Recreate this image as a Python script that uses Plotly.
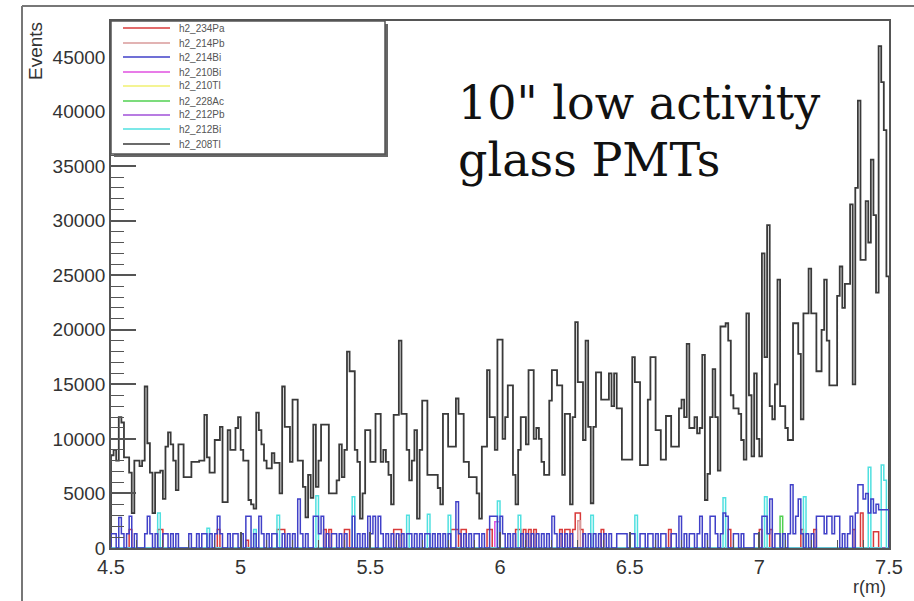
import numpy as np
import plotly.graph_objects as go

# ---------------- data ----------------
R_LO, R_HI, N_BINS = 4.5, 7.5, 300

SERIES_NAMES = ["h2_234Pa", "h2_214Pb", "h2_214Bi", "h2_210Bi", "h2_210Tl",
                "h2_228Ac", "h2_212Pb", "h2_212Bi", "h2_208Tl"]
SERIES_COLORS = ["#d83a3a", "#d89a9a", "#4040c8", "#e050e0", "#f0f070",
                 "#50d050", "#a050d8", "#50e0e0", "#3a3a3a"]

# h2_208Tl: one value per 0.01 m bin (4.50 ... 7.49)
TL208 = [
    8500, 9000, 8000, 12000, 11500, 8300, 8300, 6900, 3200, 8000,
    8000, 7500, 8000, 14800, 9600, 6900, 3200, 6900, 6900, 7100,
    4500, 9300, 10600, 9500, 8000, 5300, 9500, 9500, 6500, 6500,
    6500, 7900, 7900, 7900, 8000, 8000, 12200, 8300, 6900, 6900,
    9900, 9900, 11100, 4200, 4200, 10800, 9000, 9000, 11000, 12000,
    9000, 8000, 8000, 4400, 4000, 3600, 12400, 10800, 9500, 8000,
    7300, 7300, 8700, 7800, 7800, 5000, 14800, 11100, 11100, 7900,
    13600, 13600, 8000, 8000, 5600, 2800, 6700, 4600, 11300, 5600,
    8000, 11300, 11300, 11300, 5000, 5000, 5000, 6200, 9500, 6500,
    9000, 18000, 16200, 16200, 9000, 7900, 2700, 5000, 10800, 10800,
    7900, 7900, 12300, 12300, 7900, 9000, 7900, 6700, 4000, 12200,
    12200, 19000, 12300, 12300, 9000, 6200, 8000, 10800, 2700, 9000,
    13500, 13500, 6700, 6700, 6700, 6700, 5500, 4000, 12300, 12300,
    9300, 9300, 9300, 13700, 12300, 12300, 7900, 7900, 6500, 6500,
    6500, 5000, 2700, 9300, 9300, 16300, 12000, 12000, 9000, 19100,
    19100, 10000, 12000, 14900, 14900, 6700, 4000, 9000, 12000, 12000,
    9500, 16300, 16300, 10000, 11000, 10000, 7900, 6700, 6700, 13500,
    16300, 16300, 14900, 14900, 6700, 12300, 12300, 4000, 12000, 20700,
    15200, 15200, 9900, 19000, 11100, 4100, 11100, 16100, 16100, 13600,
    13600, 13600, 16000, 13000, 16000, 12800, 12800, 8100, 8100, 8100,
    8100, 17500, 15200, 15200, 7600, 7600, 7600, 13600, 17500, 17500,
    10800, 10800, 8100, 8100, 12100, 12100, 9300, 9300, 9300, 12800,
    13600, 12000, 18700, 11000, 11000, 12000, 10500, 11000, 17700, 4400,
    6800, 12000, 16400, 12000, 7100, 20300, 20300, 20600, 19000, 14000,
    12800, 12800, 12300, 9900, 8100, 21500, 14000, 8400, 16000, 10000,
    8400, 27000, 17500, 29600, 13000, 11800, 15000, 24600, 13000, 13000,
    11000, 9900, 9900, 20600, 20600, 17800, 11800, 21500, 21500, 25600,
    21500, 21500, 16200, 16200, 20000, 24600, 19000, 14900, 14900, 14900,
    23100, 25800, 22000, 24200, 24200, 31500, 15000, 33000, 41000, 26400,
    26400, 31800, 28000, 35600, 30500, 23400, 46000, 42700, 38300, 24900,
]

# sparse series: bin index -> events
BI214_BIN = [0, 1, 3, 4, 6, 7, 9, 13, 14, 15, 17, 20, 21, 23, 25, 30, 33, 35, 36, 38,
             40, 41, 42, 45, 47, 48, 50, 52, 53, 55, 57, 58, 60, 62, 63, 66, 68, 70, 72, 73,
             75, 78, 79, 80, 81, 83, 85, 86, 88, 90, 93, 95, 97, 99, 100, 101, 103, 104, 106, 108,
             110, 112, 114, 115, 117, 119, 121, 122, 124, 126, 128, 130, 133, 134, 136, 138, 140, 141, 143, 146,
             147, 148, 150, 151, 153, 155, 158, 160, 162, 164, 166, 168, 170, 171, 173, 175, 177, 182, 184, 186,
             188, 190, 192, 195, 196, 197, 198, 200, 201, 204, 205, 207, 208, 210, 212, 213, 216, 217, 219, 221,
             223, 224, 226, 227, 229, 231, 232, 233, 235, 236, 237, 240, 241, 243, 248, 249, 251, 252, 253, 254,
             256, 257, 259, 261, 262, 263, 264, 265, 266, 268, 270, 272, 273, 274, 275, 276, 277, 278, 279, 280,
             282, 284, 285, 287, 288, 289, 290, 291, 292, 293, 294, 295, 296, 297, 298, 299]
BI214_VAL = [1300, 1300, 2800, 1300, 1300, 2900, 1300, 1300, 2900, 1300, 1300, 1300, 1300, 1300, 1300, 1300, 1300, 1300, 1300, 1300,
             1300, 2900, 1300, 1300, 1300, 1300, 1300, 2900, 2900, 1300, 2900, 1300, 1300, 1300, 1300, 1300, 1300, 1300, 4500, 1300,
             1300, 2900, 2900, 1300, 2900, 1300, 1300, 1300, 1300, 1300, 2900, 1300, 1300, 2900, 1300, 2900, 2900, 1300, 1300, 1300,
             1300, 1300, 1300, 1300, 1300, 1300, 1300, 1300, 1300, 1300, 1300, 1300, 4250, 1300, 1300, 1300, 1300, 1300, 1300, 2900,
             2900, 2900, 2900, 1300, 1300, 1300, 1300, 1300, 1300, 1300, 1300, 1300, 2900, 1300, 1300, 1300, 1300, 1300, 1300, 1300,
             1300, 1300, 1300, 1300, 1300, 1300, 1300, 1300, 1300, 1300, 1300, 1300, 1300, 1300, 1300, 1300, 1300, 1300, 2900, 1300,
             1300, 1300, 1300, 2900, 1300, 2900, 2900, 1300, 1300, 3200, 2900, 1300, 1300, 1300, 1300, 1300, 2900, 2900, 1300, 4500,
             1300, 1300, 1300, 1300, 5800, 1300, 2900, 4500, 1300, 1300, 1300, 2900, 2900, 2900, 1300, 2900, 2900, 1300, 2900, 2900,
             1300, 1300, 2900, 3200, 5800, 5800, 4500, 5000, 3200, 4500, 3200, 4000, 3500, 3500, 3500, 3500]

PA234_BIN = [7, 18, 19, 41, 52, 64, 65, 66, 82, 84, 90, 91, 109, 110, 111, 131, 132, 133, 135, 136,
             145, 146, 156, 157, 159, 161, 163, 173, 175, 176, 178, 179, 180, 181, 189, 215, 238, 250, 254, 266,
             271, 286, 289, 294, 295]
PA234_VAL = [1700, 1700, 1700, 1700, 700, 1700, 1700, 1700, 1700, 1700, 1700, 1700, 1700, 1700, 1700, 1700, 1700, 1700, 1700, 1700,
             1700, 1700, 1700, 1700, 1700, 1700, 1700, 1700, 1700, 1700, 1700, 3200, 3200, 1700, 1700, 1700, 1700, 1700, 1700, 1700,
             1700, 1700, 3200, 1500, 1500]

PB214_BIN = [111, 163, 180]
PB214_VAL = [1200, 1200, 2500]

BI210_BIN = [148, 149]
BI210_VAL = [2400, 2400]

TL210_BIN = []
TL210_VAL = []

AC228_BIN = [258]
AC228_VAL = [2900]

PB212_BIN = []
PB212_VAL = []

BI212_BIN = [18, 37, 55, 64, 79, 93, 114, 122, 130, 149, 157, 185, 202, 236, 252, 267, 292, 297, 298]
BI212_VAL = [3200, 1800, 1700, 3000, 4800, 4700, 3000, 3100, 3000, 4300, 3000, 3000, 3000, 4600, 4700, 4700, 7400, 7600, 6200]

X_TICKS = [4.5, 5, 5.5, 6, 6.5, 7, 7.5]
X_TICK_LABELS = ["4.5", "5", "5.5", "6", "6.5", "7", "7.5"]
Y_TICKS = [0, 5000, 10000, 15000, 20000, 25000, 30000, 35000, 40000, 45000]
Y_TICK_LABELS = [str(v) for v in Y_TICKS]

X_TITLE = "r(m)"
Y_TITLE = "Events"
NOTE_LINES = ["10\" low activity", "glass PMTs"]


# ---------------- helpers ----------------
def dense(bins, vals):
    arr = [0] * N_BINS
    for b, v in zip(bins, vals):
        arr[b] = v
    return arr


def step_xy(vals):
    edges = np.linspace(R_LO, R_HI, N_BINS + 1)
    xs = [R_LO] + list(edges[:-1]) + [R_HI]
    ys = [0] + list(vals) + [0]
    return xs, ys


series_vals = [
    dense(PA234_BIN, PA234_VAL),
    dense(PB214_BIN, PB214_VAL),
    dense(BI214_BIN, BI214_VAL),
    dense(BI210_BIN, BI210_VAL),
    dense(TL210_BIN, TL210_VAL),
    dense(AC228_BIN, AC228_VAL),
    dense(PB212_BIN, PB212_VAL),
    dense(BI212_BIN, BI212_VAL),
    TL208,
]

fig = go.Figure()

# draw 208Tl first, the others on top of it
order = [8, 0, 1, 3, 4, 5, 6, 7, 2]
for i in order:
    xs, ys = step_xy(series_vals[i])
    fig.add_trace(go.Scatter(
        x=xs, y=ys, mode="lines", name=SERIES_NAMES[i],
        line=dict(color=SERIES_COLORS[i], width=1.8 if i == 8 else 1.5, shape="hv"),
        showlegend=False, hoverinfo="skip",
    ))

# ---------------- layout ----------------
W, H = 914, 601
L, R, T, B = 111, 25, 21, 53
PW, PH = W - L - R, H - T - B


def px(xp):
    return (xp - L) / PW


def py(yp):
    return (H - B - yp) / PH


FRAME = "#555555"
TXT = "#333333"

fig.update_layout(
    width=W, height=H,
    margin=dict(l=L, r=R, t=T, b=B, pad=0),
    paper_bgcolor="white", plot_bgcolor="white",
    font=dict(family="Liberation Sans, Arial, sans-serif", color=TXT),
    showlegend=False,
)

fig.update_xaxes(
    range=[R_LO, R_HI], tickmode="array", tickvals=X_TICKS, ticktext=X_TICK_LABELS,
    ticks="inside", ticklen=16, tickwidth=1.5, tickcolor=FRAME,
    minor=dict(ticks="inside", ticklen=8, tickwidth=1.2, tickcolor=FRAME, dtick=0.1, tick0=4.5, showgrid=False),
    showline=True, linecolor=FRAME, linewidth=1.5, mirror=True,
    showgrid=False, zeroline=False,
    tickfont=dict(size=20, color=TXT),
)
fig.update_yaxes(
    range=[0, 48300], tickmode="array", tickvals=Y_TICKS, ticktext=Y_TICK_LABELS,
    ticks="inside", ticklen=25, tickwidth=1.5, tickcolor=FRAME,
    minor=dict(ticks="inside", ticklen=13, tickwidth=1.2, tickcolor=FRAME, dtick=1000, tick0=0, showgrid=False),
    showline=True, linecolor=FRAME, linewidth=1.5, mirror=True,
    showgrid=False, zeroline=False,
    tickfont=dict(size=19, color=TXT),
)

annotations = [
    dict(text=Y_TITLE, xref="paper", yref="paper", x=px(36), y=py(51),
         xanchor="center", yanchor="middle", textangle=-90, showarrow=False,
         font=dict(size=19, color=TXT)),
    dict(text=X_TITLE, xref="paper", yref="paper", x=px(888), y=py(587),
         xanchor="right", yanchor="middle", showarrow=False,
         font=dict(size=18, color=TXT)),
]
note_y = [103, 160]
for line, yy in zip(NOTE_LINES, note_y):
    annotations.append(dict(text=line, xref="paper", yref="paper", x=px(456), y=py(yy),
                            xanchor="left", yanchor="middle", showarrow=False,
                            font=dict(family="DejaVu Serif, serif", size=46, color="#111111")))

# legend box (drawn as layout elements)
LEG_X0, LEG_X1, LEG_Y0, LEG_Y1 = 111, 385, 21, 154
row_y = [28, 43, 57, 72, 86, 101, 115, 129, 144]
shapes = [
    # shadow
    dict(type="rect", xref="paper", yref="paper", x0=px(LEG_X0 + 3), x1=px(LEG_X1 + 3),
         y0=py(LEG_Y1 + 3), y1=py(LEG_Y0 + 3), fillcolor="#666666", line=dict(width=0), layer="above"),
    dict(type="rect", xref="paper", yref="paper", x0=px(LEG_X0), x1=px(LEG_X1),
         y0=py(LEG_Y1), y1=py(LEG_Y0), fillcolor="white", line=dict(color=FRAME, width=1.5), layer="above"),
]
for name, col, yy in zip(SERIES_NAMES, SERIES_COLORS, row_y):
    shapes.append(dict(type="line", xref="paper", yref="paper", x0=px(123), x1=px(170),
                       y0=py(yy), y1=py(yy), line=dict(color=col, width=1.5), layer="above"))
    annotations.append(dict(text=name, xref="paper", yref="paper", x=px(177), y=py(yy),
                            xanchor="left", yanchor="middle", showarrow=False,
                            font=dict(size=10, color="#555555")))

# outer image border (top and left)
shapes.append(dict(type="line", xref="paper", yref="paper", x0=px(22), x1=px(914),
                   y0=py(6), y1=py(6), line=dict(color="#777777", width=2), layer="above"))
shapes.append(dict(type="line", xref="paper", yref="paper", x0=px(22), x1=px(22),
                   y0=py(6), y1=py(601), line=dict(color="#777777", width=2), layer="above"))

fig.update_layout(annotations=annotations, shapes=shapes)

fig.write_html("out.html")
